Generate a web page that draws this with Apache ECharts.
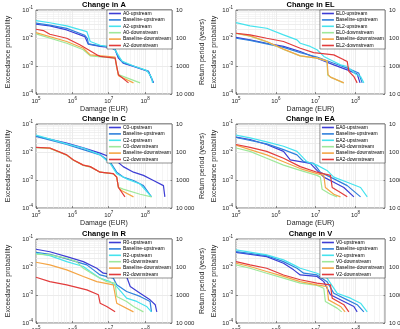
<!DOCTYPE html>
<html><head><meta charset="utf-8">
<script src="https://cdn.jsdelivr.net/npm/echarts@6/dist/echarts.min.js"></script>
<style>html,body{margin:0;padding:0;background:#fff}#c{width:400px;height:329px}</style>
</head><body><div id="c"></div>
<script>
// ---- data: [damage (EUR), exceedance probability] ----
const A0_up = [[1e5,0.031],[2.4e5,0.027],[7e5,0.0194],[2.2e6,0.0112],[2.75e6,0.006],[5.8e6,0.005],[1.09e7,0.0046],[1.5e7,0.0038],[1.85e7,0.0019],[2.5e7,0.00126],[4.8e7,0.00096],[1.24e8,0.00064],[1.7e8,0.00025]];
const Abase_up = [[1e5,0.034],[2.4e5,0.029],[7e5,0.022],[2.2e6,0.0125],[2.6e6,0.0095],[2.75e6,0.0062],[5.8e6,0.0052],[1.09e7,0.0048],[1.5e7,0.004],[1.85e7,0.0021],[2.5e7,0.0013],[4.8e7,0.001],[9e7,0.00075],[1.24e8,0.00064],[1.7e8,0.00025]];
const A2_up = [[1e5,0.042],[2.4e5,0.035],[7e5,0.027],[2.5e6,0.017],[3.1e6,0.0075],[5.8e6,0.0055],[1.34e7,0.0046],[1.66e7,0.003],[2.3e7,0.0015],[4.8e7,0.001],[1.1e8,0.0007],[1.5e8,0.0004],[1.6e8,0.00025]];
const A0_down = [[1e5,0.014],[7e5,0.0065],[2e6,0.0038],[3.1e6,0.0023],[1.5e7,0.0019],[1.66e7,0.00084],[1.85e7,0.00049],[7.3e7,0.00025]];
const Abase_down = [[1e5,0.0156],[7e5,0.0075],[2e6,0.0043],[3.1e6,0.0025],[1.5e7,0.0021],[1.66e7,0.00096],[1.85e7,0.00045],[4.8e7,0.00025]];
const A2_down = [[1e5,0.0205],[1.6e5,0.0184],[2.4e5,0.0136],[7e5,0.0098],[1.6e6,0.0057],[4.7e6,0.0025],[5.8e6,0.0022],[1.5e7,0.0019],[1.66e7,0.00096],[1.85e7,0.00049],[3.5e7,0.00025]];

const EL0_up = [[1e5,0.0106],[2.25e5,0.0086],[5.9e5,0.0065],[1.56e6,0.005],[4.1e6,0.0033],[1.08e7,0.0019],[2.85e7,0.0011],[6.2e7,0.00073],[1.1e8,0.00052],[1.3e8,0.00025]];
const ELbase_up = [[1e5,0.0098],[2.25e5,0.0082],[5.9e5,0.0062],[1.56e6,0.0046],[4.1e6,0.003],[1.08e7,0.0021],[2.85e7,0.00126],[6.2e7,0.00084],[1.2e8,0.00056],[1.47e8,0.00025]];
const EL2_up = [[1e5,0.0354],[2.25e5,0.027],[5.9e5,0.0223],[1.56e6,0.0129],[3.4e6,0.0086],[4.1e6,0.0065],[7.3e6,0.005],[1.08e7,0.0038],[1.6e7,0.0022],[2.85e7,0.00145],[4.2e7,0.0011],[6.2e7,0.00096],[1e8,0.00052],[1.34e8,0.00042],[1.62e8,0.00025]];
const EL0_down = [[1e5,0.0145],[2.25e5,0.0117],[5.9e5,0.0073],[1.56e6,0.0039],[4.1e6,0.0023],[1.08e7,0.0019],[1.93e7,0.0015],[2.0e7,0.00048],[2.35e7,0.0004],[5e7,0.00025]];
const ELbase_down = [[1e5,0.0148],[2.25e5,0.0119],[5.9e5,0.0075],[1.56e6,0.004],[4.1e6,0.0023],[1.08e7,0.0019],[1.93e7,0.00153],[2.05e7,0.00049],[2.35e7,0.0004],[5.1e7,0.00025]];
const EL2_down = [[1e5,0.0148],[2.25e5,0.0129],[5.9e5,0.0098],[1.56e6,0.0075],[4.1e6,0.0043],[8.9e6,0.003],[2.85e7,0.0025],[5.1e7,0.00166],[6.2e7,0.00145],[6.8e7,0.00064],[9.1e7,0.00042],[1.1e8,0.00025]];

const C0_up = [[1e5,0.037],[7e5,0.021],[2e6,0.014],[5.8e6,0.0091],[1.34e7,0.006],[2.5e7,0.003],[4.8e7,0.0019],[9e7,0.00146],[1.7e8,0.00096],[3.2e8,0.00063],[3.5e8,0.00025]];
const Cbase_up = [[1e5,0.036],[7e5,0.0185],[2e6,0.0121],[5.8e6,0.0079],[1.09e7,0.0045],[1.66e7,0.0019],[2.5e7,0.00127],[4.8e7,0.00096],[9e7,0.00063],[1.5e8,0.00025]];
const C2_up = [[1e5,0.04],[7e5,0.0195],[2e6,0.0139],[5.8e6,0.0079],[1.09e7,0.0039],[1.66e7,0.00168],[3.1e7,0.0011],[7.3e7,0.00072],[1.5e8,0.00025]];
const C0_down = [[1e5,0.0142],[2.4e5,0.0135],[7e5,0.0077],[1.07e6,0.0051],[2e6,0.0033],[3.1e6,0.0029],[5.8e6,0.0019],[1.34e7,0.00165],[1.66e7,0.00125],[1.85e7,0.00055],[2.5e7,0.00047],[7.3e7,0.00031],[1.5e8,0.00025]];
const Cbase_down = [[1e5,0.0145],[2.4e5,0.0137],[7e5,0.0078],[1.07e6,0.0052],[2e6,0.0034],[3.1e6,0.003],[5.8e6,0.0019],[1.34e7,0.00167],[1.66e7,0.00126],[1.85e7,0.00054],[2.3e7,0.00041],[4.8e7,0.00025]];
const C2_down = [[1e5,0.0147],[2.4e5,0.0139],[7e5,0.0079],[1.07e6,0.0052],[2e6,0.0034],[3.1e6,0.003],[5.8e6,0.0019],[1.34e7,0.00168],[1.66e7,0.00127],[1.85e7,0.00054],[2.8e7,0.00025]];

const EA0_up = [[1e5,0.034],[2.25e5,0.028],[5.9e5,0.0185],[1.56e6,0.0105],[2.3e6,0.0052],[4.1e6,0.0045],[7.3e6,0.0039],[1.08e7,0.0022],[1.6e7,0.00127],[2.85e7,0.00083],[5.1e7,0.00054],[9.1e7,0.00025]];
const EAbase_up = [[1e5,0.033],[5.9e5,0.0195],[1.56e6,0.0121],[3.4e6,0.0079],[5e6,0.0045],[8.9e6,0.0039],[1.31e7,0.0019],[2.35e7,0.00127],[6.2e7,0.00063],[1.34e8,0.00025]];
const EA2_up = [[1e5,0.04],[2.25e5,0.032],[5.9e5,0.023],[1.56e6,0.016],[3.4e6,0.0105],[6e6,0.0045],[1.08e7,0.0034],[1.93e7,0.0022],[2.85e7,0.00127],[6.2e7,0.00083],[1.34e8,0.00054],[1.97e8,0.00025]];
const EA0_down = [[1e5,0.0139],[2.25e5,0.0105],[5.9e5,0.006],[1.56e6,0.0034],[4.1e6,0.0022],[1.08e7,0.00146],[1.31e7,0.00127],[1.45e7,0.00047],[2.35e7,0.00031],[3.45e7,0.00025]];
const EAbase_down = [[1e5,0.0175],[2.25e5,0.0121],[5.9e5,0.0079],[1.56e6,0.0045],[4.1e6,0.00256],[1.08e7,0.00168],[1.6e7,0.00146],[1.75e7,0.00054],[2.85e7,0.00031],[4.2e7,0.00025]];
const EA2_down = [[1e5,0.0185],[2.25e5,0.0147],[5.9e5,0.0105],[1.56e6,0.006],[4.1e6,0.003],[1.08e7,0.0019],[2.35e7,0.00146],[2.6e7,0.00054],[4.2e7,0.00036],[6.2e7,0.00025]];

const R0_up = [[1e5,0.043],[2.4e5,0.035],[7e5,0.0235],[2e6,0.0156],[4.7e6,0.009],[7.1e6,0.006],[1.66e7,0.0052],[3.1e7,0.0046],[3.9e7,0.002],[7.3e7,0.00116],[1.37e8,0.00067],[1.9e8,0.00045],[2.1e8,0.00025]];
const Rbase_up = [[1e5,0.0335],[2.4e5,0.0285],[7e5,0.0194],[2.5e6,0.0119],[3.8e6,0.0079],[5.8e6,0.0052],[1.34e7,0.004],[1.66e7,0.0023],[3.1e7,0.00134],[7.3e7,0.00089],[1.37e8,0.00059],[1.5e8,0.00025]];
const R2_up = [[1e5,0.031],[2.4e5,0.0255],[7e5,0.0156],[2e6,0.0104],[3.1e6,0.0069],[5.8e6,0.004],[1.09e7,0.003],[1.66e7,0.002],[3.1e7,0.00077],[5.9e7,0.00059],[1.1e8,0.00039],[1.5e8,0.00025]];
const R0_down = [[1e5,0.029],[2.4e5,0.027],[7e5,0.0205],[1.3e6,0.0156],[2e6,0.009],[4.7e6,0.0046],[8.8e6,0.003],[1.5e7,0.00264],[1.66e7,0.00089],[3.1e7,0.00059],[4.8e7,0.00039],[9e7,0.00025]];
const Rbase_down = [[1e5,0.0148],[2.4e5,0.0119],[7e5,0.0079],[2e6,0.0046],[4.7e6,0.003],[1.34e7,0.0023],[1.5e7,0.00102],[1.66e7,0.00051],[4.8e7,0.00025]];
const R2_down = [[1e5,0.0043],[2.4e5,0.003],[7e5,0.0023],[2.5e6,0.00153],[5.2e6,0.00102],[5.8e6,0.00051],[8.8e6,0.00039],[1.5e7,0.00025]];

const V0_up = [[1e5,0.0335],[5.9e5,0.0235],[1.56e6,0.0136],[2.8e6,0.0079],[4.1e6,0.0052],[1.08e7,0.0046],[1.6e7,0.003],[2.35e7,0.00102],[5.1e7,0.00059],[9.1e7,0.00039],[1.1e8,0.00025]];
const Vbase_up = [[1e5,0.0354],[5.9e5,0.0255],[1.56e6,0.0156],[3.4e6,0.009],[5e6,0.006],[1.08e7,0.0052],[1.93e7,0.003],[2.85e7,0.00116],[6.2e7,0.00067],[1.1e8,0.00045],[1.62e8,0.00025]];
const V2_up = [[1e5,0.041],[5.9e5,0.027],[1.56e6,0.018],[2.8e6,0.0119],[4.1e6,0.009],[1.08e7,0.006],[1.93e7,0.004],[3.45e7,0.00116],[7.5e7,0.00077],[1.34e8,0.00051],[1.97e8,0.00025]];
const V0_down = [[1e5,0.0119],[2.25e5,0.009],[5.9e5,0.006],[1.56e6,0.004],[4.1e6,0.00264],[1.08e7,0.0022],[1.6e7,0.00175],[1.75e7,0.00059],[3.45e7,0.00034],[4.5e7,0.00025]];
const Vbase_down = [[1e5,0.0136],[2.25e5,0.0104],[5.9e5,0.0069],[1.56e6,0.0046],[4.1e6,0.003],[1.08e7,0.0023],[1.93e7,0.002],[2.1e7,0.00067],[4.2e7,0.00039],[5.5e7,0.00025]];
const V2_down = [[1e5,0.0156],[2.25e5,0.0119],[5.9e5,0.009],[1.56e6,0.0052],[4.1e6,0.0035],[1.08e7,0.00264],[2.35e7,0.0023],[2.6e7,0.00077],[5.1e7,0.00045],[6.8e7,0.00025]];

const panelCodes = ['A','EL','C','EA','R','V'];
const panelData = [
  [A0_up, Abase_up, A2_up, A0_down, Abase_down, A2_down],
  [EL0_up, ELbase_up, EL2_up, EL0_down, ELbase_down, EL2_down],
  [C0_up, Cbase_up, C2_up, C0_down, Cbase_down, C2_down],
  [EA0_up, EAbase_up, EA2_up, EA0_down, EAbase_down, EA2_down],
  [R0_up, Rbase_up, R2_up, R0_down, Rbase_down, R2_down],
  [V0_up, Vbase_up, V2_up, V0_down, Vbase_down, V2_down]
];
const xRange = [1e5, 5.5e8];
const yRange = [1e-4, 1e-1];
const rpRange = [10, 10000];

// ---- styling ----
const colors = ['#3d3dd4', '#2f80dc', '#45e3ee', '#9ee89a', '#f4a545', '#e23b3b'];
const FONT = 'Liberation Sans, Arial, Helvetica, sans-serif';
const ink = '#262626';
const colLeft = [36, 236], colWidth = [136, 149];
const rowTop = [10, 124, 239], plotH = 84;

function names(code){ return [code+'0-upstream','Baseline-upstream',code+'2-upstream',code+'0-downstream','Baseline-downstream',code+'2-downstream']; }
function powLabel(v){
  const l = Math.log10(v), e = Math.round(l);
  if (Math.abs(l - e) > 1e-6) return '';
  return '{b|10}{s|' + e + '}';
}
const richPow = { b:{fontSize:6, lineHeight:10, color:ink, fontFamily:FONT}, s:{fontSize:4.5, lineHeight:5, verticalAlign:'top', color:ink, fontFamily:FONT} };

function minorX(){ const a=[]; for(let d=5; d<=8; d++) for(let k=2;k<=9;k++){ const v=k*Math.pow(10,d); if(v<xRange[1]) a.push({xAxis:v}); } return a; }
function minorY(){ const a=[]; for(let d=-4; d<=-2; d++) for(let k=2;k<=9;k++) a.push({yAxis:k*Math.pow(10,d)});
  for(let d=1; d<=3; d++) for(let k=2;k<=9;k++) a.push({yAxis:1/(k*Math.pow(10,d))}); return a; }

const grid=[], xAxis=[], yAxis=[], series=[], legend=[], title=[];
panelCodes.forEach((code,i)=>{
  const col=i%2, row=Math.floor(i/2);
  const left=colLeft[col], w=colWidth[col], top=rowTop[row];
  grid.push({left:left, top:top, width:w, height:plotH, show:true, borderColor:ink, borderWidth:0.6,
    backgroundColor:'rgba(0,0,0,0)', containLabel:false, outerBoundsMode:'none'});
  xAxis.push({type:'log', logBase:10, gridIndex:i, min:xRange[0], max:xRange[1],
    name:'Damage (EUR)', nameLocation:'middle', nameGap:12, nameTextStyle:{fontSize:7, color:ink, fontFamily:FONT},
    axisLine:{show:false}, axisTick:{show:true, inside:true, length:2, lineStyle:{color:ink, width:0.5}},
    axisLabel:{formatter:powLabel, rich:richPow, margin:2, showMaxLabel:false},
    splitLine:{show:true, lineStyle:{color:'#d6d6d6', width:0.5}}});
  yAxis.push({type:'log', logBase:10, gridIndex:i, min:yRange[0], max:yRange[1], position:'left',
    name:'Exceedance probability', nameLocation:'middle', nameRotate:90, nameGap: col?18:24,
    nameTextStyle:{fontSize:7, color:ink, fontFamily:FONT},
    axisLine:{show:false}, axisTick:{show:true, inside:true, length:2, lineStyle:{color:ink, width:0.5}},
    axisLabel:{formatter:powLabel, rich:richPow, margin:3},
    splitLine:{show:true, lineStyle:{color:'#d6d6d6', width:0.5}}});
  yAxis.push({type:'log', logBase:10, gridIndex:i, min:rpRange[0], max:rpRange[1], inverse:true, position:'right',
    name:'Return period (years)', nameLocation:'middle', nameRotate:90, nameGap:20,
    nameTextStyle:{fontSize:7, color:ink, fontFamily:FONT},
    axisLine:{show:false}, axisTick:{show:true, inside:true, length:2, lineStyle:{color:ink, width:0.5}},
    axisLabel:{formatter:v=> v>=9999 ? '10 000' : String(Math.round(v)), fontSize:6, color:ink, fontFamily:FONT, margin:4},
    splitLine:{show:false}});
  series.push({type:'line', name:'_grid'+i, xAxisIndex:i, yAxisIndex:2*i, data:[], silent:true, z:1,
    markLine:{silent:true, z:1, symbol:['none','none'], label:{show:false}, animation:false,
      lineStyle:{color:'#ebebeb', width:0.5, type:'solid'}, emphasis:{disabled:true},
      data: minorX().concat(minorY())}});
  const nm = names(code);
  panelData[i].forEach((d,j)=>{
    series.push({type:'line', name:nm[j], xAxisIndex:i, yAxisIndex:2*i, data:d, showSymbol:false, symbol:'none',
      lineStyle:{color:colors[j], width:1.2}, itemStyle:{color:colors[j]}, z:3, silent:true});
  });
  legend.push({data:nm, orient:'vertical', right: 400-(left+w), top: top, itemWidth:12, itemHeight:1.6, itemGap:1.4,
    icon:'rect', padding:[1,1,1,2], backgroundColor:'#fff', borderColor:ink, borderWidth:0.5,
    textStyle:{fontSize:5, color:'#000', fontFamily:FONT, padding:[0,0,0,-3], lineHeight:5}, selectedMode:false, z:5});
  title.push({text:'Change in '+code, left:left+w/2, textAlign:'center', top:top-9, padding:0,
    textStyle:{fontSize:7.5, fontWeight:'bold', color:'#000', fontFamily:FONT}});
});

const chart = echarts.init(document.getElementById('c'), null, {renderer:'canvas'});
chart.setOption({animation:false, backgroundColor:'#fff', grid, xAxis, yAxis, series, legend, title, tooltip:{show:false}});
</script></body></html>
